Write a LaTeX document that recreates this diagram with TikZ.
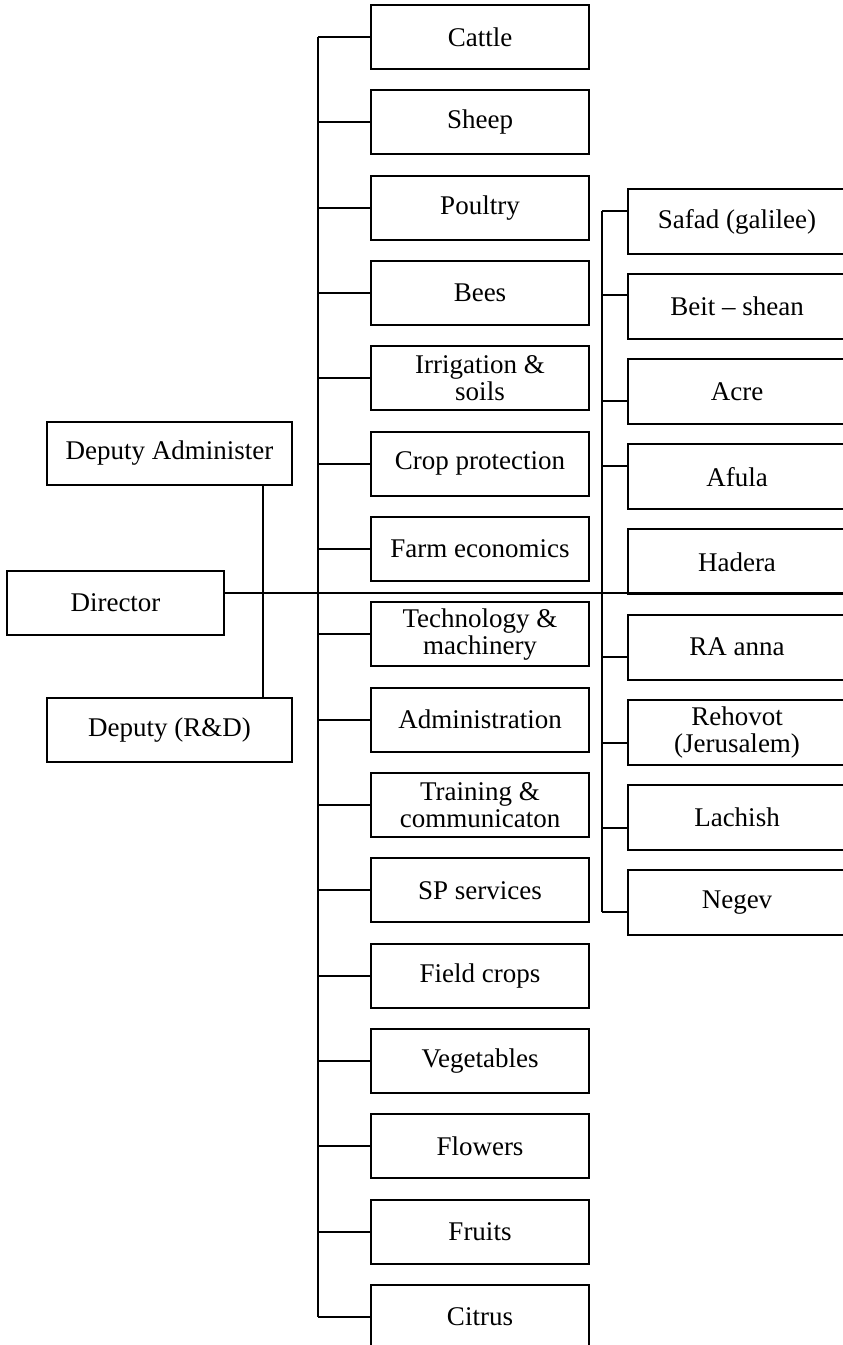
\documentclass[tikz,border=0pt]{standalone}
\usepackage{fontspec}
\setmainfont{Liberation Serif}
\usetikzlibrary{calc}
\tikzset{
  box/.style={draw, rectangle, inner sep=0pt, outer sep=0pt, align=center,
    font=\fontsize{27}{27}\selectfont},
  midbox/.style={box, minimum width=218pt, minimum height=64pt},
  rbox/.style={box, minimum width=218pt, minimum height=65pt},
  lbox/.style={box, minimum width=245pt, minimum height=63pt},
  conn/.style={draw, line width=2pt}
}
\begin{document}
\begin{tikzpicture}[x=1pt,y=-1pt,line width=2pt]
\useasboundingbox (0,0) rectangle (843,1345);
\clip (0,0) rectangle (843,1345);
% left column
\node[lbox] (dadmin) at (169.5,453.5) {Deputy Administer};
\node[box, minimum width=217pt, minimum height=64pt] (director) at (115.5,603) {Director};
\node[lbox, minimum height=64pt] (drd) at (169.5,730) {Deputy (R\&D)};
% middle column
\foreach \i/\n/\t in {0/cattle/Cattle,1/sheep/Sheep,2/poultry/Poultry,3/bees/Bees,
  4/irrig/{Irrigation \&\\soils},5/crop/Crop protection,6/farm/Farm economics,
  7/tech/{Technology \&\\machinery},8/admin/Administration,9/train/{Training \&\\communicaton},
  10/sp/SP services,11/field/Field crops,12/veg/Vegetables,13/flow/Flowers,14/fruit/Fruits,15/citrus/Citrus}
  {\node[midbox] (\n) at (480, {37+85.33*\i}) {\t};}
% right column
\foreach \j/\n/\t in {0/safad/Safad (galilee),1/beit/Beit -- shean,2/acre/Acre,3/afula/Afula,
  4/hadera/Hadera,5/raanna/RA anna,6/rehovot/{Rehovot\\(Jerusalem)},7/lachish/Lachish,8/negev/Negev}
  {\node[rbox] (\n) at (737, {221.5+85.1*\j}) {\t};}
% buses
\coordinate (mbus) at (318,0);
\coordinate (rbus) at (602,0);
% middle connectors
\foreach \n in {cattle,sheep,poultry,bees,irrig,crop,farm,tech,admin,train,sp,field,veg,flow,fruit,citrus}
  {\draw[conn] (\n.west) -- (\n.west -| mbus);}
\draw[conn] (cattle.west -| mbus) -- (citrus.west -| mbus);
% right connectors
\foreach \n/\f in {safad/0.34,beit/0.32,acre/0.65,afula/0.34,raanna/0.65,rehovot/0.66,lachish/0.66,negev/0.65}
  {\coordinate (\n-s) at ($(\n.north west)!\f!(\n.south west)$);
   \draw[conn] (\n-s) -- (\n-s -| rbus);}
\draw[conn] (safad-s -| rbus) -- (negev-s -| rbus);
% main line
\coordinate (dir-e) at ($(director.north east)!0.34!(director.south east)$);
\draw[conn] (dir-e) -- (dir-e -| hadera.south east);
% deputies
\coordinate (dep-t) at ($(dadmin.south west)!0.88!(dadmin.south east)$);
\draw[conn] (dep-t) -- (dep-t |- drd.north);
\end{tikzpicture}
\end{document}
